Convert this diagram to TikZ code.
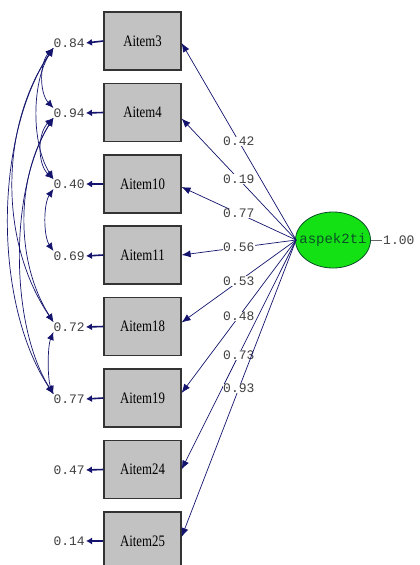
\documentclass[tikz,border=0pt]{standalone}
\usepackage{fontspec}
\setmainfont{Liberation Serif}
\newfontfamily\monof{Liberation Mono}
\usetikzlibrary{arrows.meta,shapes.geometric}
\definecolor{navy}{RGB}{20,20,110}
\definecolor{boxgray}{RGB}{194,194,194}
\definecolor{lgreen}{RGB}{20,225,20}
\definecolor{dgreen}{RGB}{10,80,40}
\tikzset{
  itembox/.style={draw=black!80,line width=1.2pt,fill=boxgray,minimum width=77pt,minimum height=58pt,inner sep=0pt,font=\fontsize{16}{16}\selectfont},
  errlab/.style={font=\monof\fontsize{13}{13}\selectfont,text=black!75,inner sep=1pt,anchor=east},
  loadlab/.style={font=\monof\fontsize{13}{13}\selectfont,text=black!75,fill=white,inner sep=0.5pt,pos=0.5},
  arr/.style={draw=navy,line width=0.7pt,-{Latex[length=9pt,width=7pt]}},
  errarr/.style={draw=navy,line width=1.6pt,-{Latex[length=6pt,width=7pt]}},
  covar/.style={draw=navy,line width=0.7pt,{Latex[length=8pt,width=7pt]}-{Latex[length=8pt,width=7pt]}},
}
\newcommand\itm[1]{\scalebox{0.8}[1]{#1}}
\newcommand\covline[4]{\draw[covar] (#1) .. controls +(-#3,#4) and +(-#3,-#4) .. (#2);}
\begin{document}
\begin{tikzpicture}[x=1pt,y=-1pt]
\useasboundingbox (0,0) rectangle (420,565);
\fill[white] (0,0) rectangle (420,565);
% boxes
\node[itembox] (b3)  at (142.5,41)    {\itm{Aitem3}};
\node[itembox] (b4)  at (142.5,112.5) {\itm{Aitem4}};
\node[itembox] (b10) at (142.5,184)   {\itm{Aitem10}};
\node[itembox] (b11) at (142.5,255)   {\itm{Aitem11}};
\node[itembox] (b18) at (142.5,326.5) {\itm{Aitem18}};
\node[itembox] (b19) at (142.5,398)   {\itm{Aitem19}};
\node[itembox] (b24) at (142.5,469.5) {\itm{Aitem24}};
\node[itembox] (b25) at (142.5,541)   {\itm{Aitem25}};
% error labels
\node[errlab] (e3)  at (86,43)  {0.84};
\node[errlab] (e4)  at (86,113) {0.94};
\node[errlab] (e10) at (86,184) {0.40};
\node[errlab] (e11) at (86,256) {0.69};
\node[errlab] (e18) at (86,327) {0.72};
\node[errlab] (e19) at (86,399) {0.77};
\node[errlab] (e24) at (86,470) {0.47};
\node[errlab] (e25) at (86,541) {0.14};
\foreach \i in {3,4,10,11,18,19,24,25}{\draw[errarr] (b\i.west) -- (e\i.east);}
% latent
\node[ellipse,draw=dgreen,line width=0.8pt,fill=lgreen,minimum width=75pt,minimum height=56pt,inner sep=0pt,text=dgreen,font=\monof\fontsize{14}{14}\selectfont] (lat) at (333,240) {\makebox[40pt]{aspek2ti}};
\node[font=\monof\fontsize{13}{13}\selectfont,text=black!75,anchor=west,inner sep=1pt] (one) at (382,240) {1.00};
\draw[draw=black!60,line width=0.6pt] (lat.east) -- (one.west);
% loadings
\coordinate (L) at ([xshift=1pt]lat.west);
\draw[arr] (L) -- node[loadlab]{0.42} ([yshift=-2pt]b3.east);
\draw[arr] (L) -- node[loadlab]{0.19} ([yshift=-6pt]b4.east);
\draw[arr] (L) -- node[loadlab]{0.77} ([yshift=-3pt]b10.east);
\draw[arr] (L) -- node[loadlab]{0.56} (b11.east);
\draw[arr] (L) -- node[loadlab]{0.53} ([yshift=4pt]b18.east);
\draw[arr] (L) -- node[loadlab]{0.48} ([yshift=5pt]b19.east);
\draw[arr] (L) -- node[loadlab]{0.73} (b24.east);
\draw[arr] (L) -- node[loadlab]{0.93} ([yshift=4pt]b25.east);
% covariance end points
\foreach \i in {3,4,10,11,18,19}{
  \coordinate (u\i) at ([xshift=1pt,yshift=5pt]e\i.west);
  \coordinate (d\i) at ([xshift=1pt,yshift=-5pt]e\i.west);
}
\covline{d3}{u4}{14}{15}
\covline{d4}{u10}{16}{15}
\covline{d10}{u11}{10}{15}
\covline{d18}{u19}{6}{15}
\covline{d3}{u10}{22}{35}
\covline{d3}{u19}{60}{90}
\covline{d3}{u18}{54}{80}
\covline{d4}{u19}{44}{70}
\covline{d4}{u18}{38}{60}
\end{tikzpicture}
\end{document}
